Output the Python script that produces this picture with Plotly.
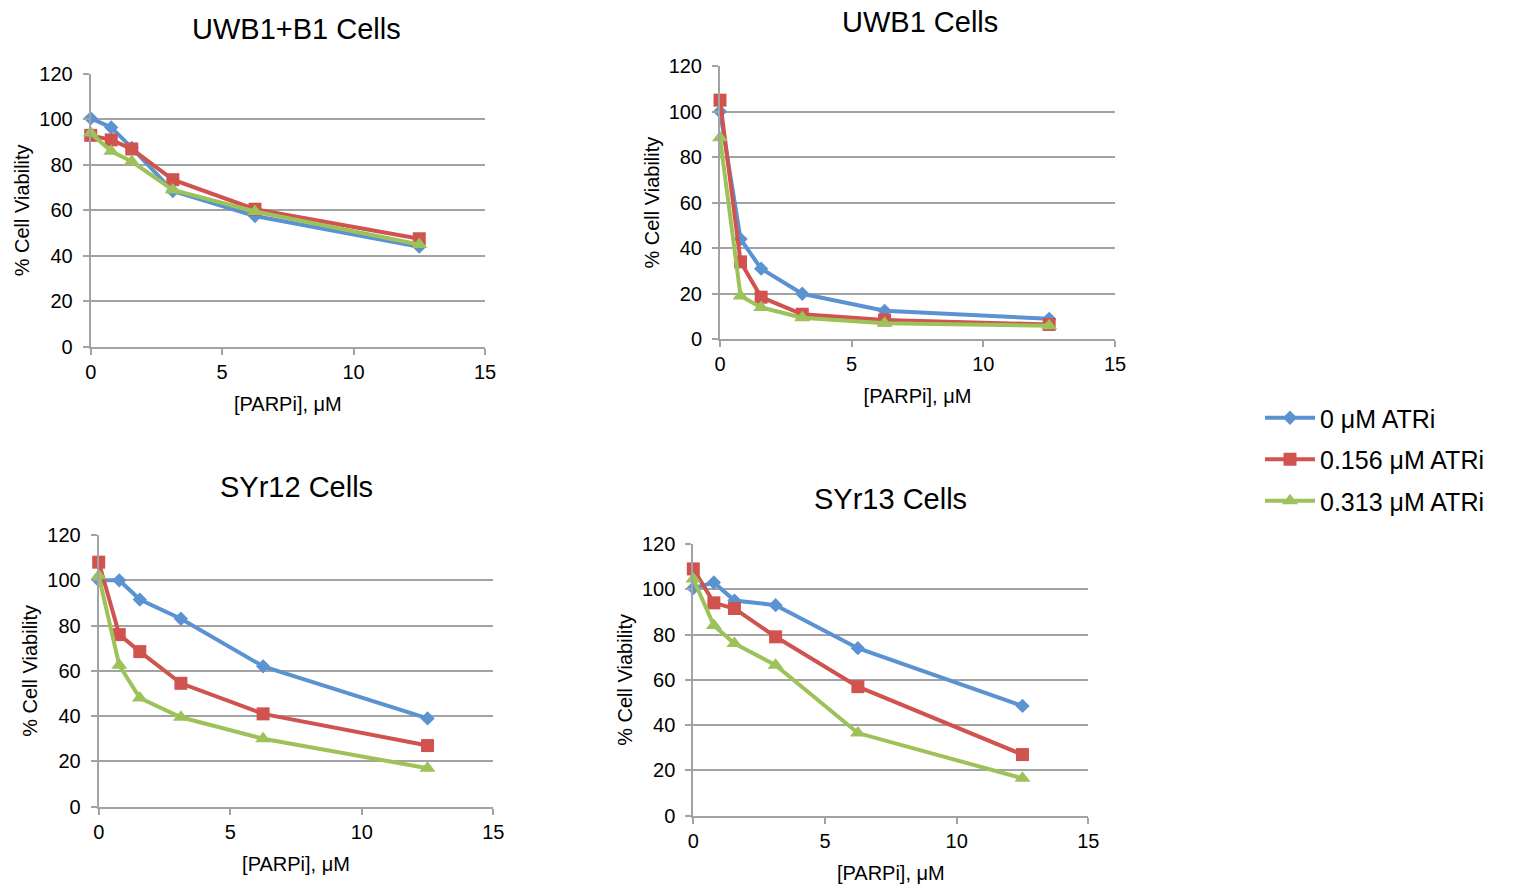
import plotly.graph_objects as go

# PARPi concentrations (uM)
parpi = [0, 0.78125, 1.5625, 3.125, 6.25, 12.5]

series_names = ["0 \u03bcM ATRi", "0.156 \u03bcM ATRi", "0.313 \u03bcM ATRi"]

panel_titles = ["UWB1+B1 Cells", "UWB1 Cells", "SYr12 Cells", "SYr13 Cells"]

# % cell viability per panel, per ATRi dose
uwb1b1_0 = [100.5, 96.5, 87.5, 68.5, 57.5, 44]
uwb1b1_156 = [93, 91, 87, 73.5, 60.5, 47.5]
uwb1b1_313 = [94, 86, 81.5, 69, 59.5, 45]

uwb1_0 = [100, 44, 31, 20, 12.5, 9]
uwb1_156 = [105, 34, 18.5, 11, 8.5, 6.5]
uwb1_313 = [88.5, 19, 14, 9.5, 7, 6]

syr12_0 = [100, 100, 91.5, 83, 62, 39]
syr12_156 = [108, 76, 68.5, 54.5, 41, 27]
syr12_313 = [102, 62.5, 48, 39.5, 30, 17]

syr13_0 = [100.5, 103, 95, 93, 74, 48.5]
syr13_156 = [109, 94, 91.5, 79, 57, 27]
syr13_313 = [104.5, 84, 76, 66.5, 36.5, 16.5]

panels = [
    [uwb1b1_0, uwb1b1_156, uwb1b1_313],
    [uwb1_0, uwb1_156, uwb1_313],
    [syr12_0, syr12_156, syr12_313],
    [syr13_0, syr13_156, syr13_313],
]

colors = ["#5B92D2", "#D0534F", "#9DC25A"]
symbols = ["diamond", "square", "triangle-up"]
msizes = [11, 13, 14]

W, H = 1514, 896
# pixel boxes of the plot areas: (x0, x1, ytop, ybottom)
boxes = [
    (90.7, 485.0, 74.0, 346.7),
    (720.0, 1115.0, 66.0, 339.3),
    (98.7, 493.3, 535.0, 806.7),
    (693.3, 1088.3, 544.0, 815.7),
]
title_pos = [(296, 29), (920, 22), (296, 487), (890, 499)]

FONT = "Liberation Sans, Arial, Helvetica, sans-serif"
GRID = "#A3A3A3"

fig = go.Figure()
layout = dict(
    width=W, height=H,
    margin=dict(l=0, r=0, t=0, b=0, autoexpand=False),
    paper_bgcolor="white", plot_bgcolor="white",
    font=dict(family=FONT, color="black"),
    showlegend=True,
    legend=dict(
        x=1260 / W, y=1 - 395 / H, xanchor="left", yanchor="top",
        font=dict(size=25, family=FONT, color="black"),
        tracegroupgap=6, itemwidth=50, bgcolor="rgba(0,0,0,0)",
    ),
    annotations=[],
)

for i, (vals, box) in enumerate(zip(panels, boxes)):
    ax = "" if i == 0 else str(i + 1)
    for j in range(3):
        fig.add_trace(go.Scatter(
            x=parpi, y=vals[j], mode="lines+markers",
            name=series_names[j], legendgroup=f"g{j}",
            showlegend=(i == 0),
            line=dict(color=colors[j], width=4),
            marker=dict(symbol=symbols[j], size=msizes[j], color=colors[j]),
            cliponaxis=False,
            xaxis="x" + ax, yaxis="y" + ax,
        ))
    x0, x1, yt, yb = box
    layout["xaxis" + ax] = dict(
        domain=[x0 / W, x1 / W], anchor="y" + ax, range=[0, 15],
        tickvals=[0, 5, 10, 15], showgrid=False, zeroline=False,
        showline=True, linecolor=GRID, linewidth=2, automargin=False,
        ticks="outside", ticklen=6, tickwidth=2, tickcolor=GRID,
        tickfont=dict(size=20, family=FONT, color="black"),
        title=dict(text="[PARPi], \u03bcM", font=dict(size=20, family=FONT, color="black"), standoff=15),
    )
    layout["yaxis" + ax] = dict(
        domain=[1 - yb / H, 1 - yt / H], anchor="x" + ax, range=[0, 120],
        tickvals=[0, 20, 40, 60, 80, 100, 120], showgrid=True,
        gridcolor=GRID, gridwidth=2, zeroline=False,
        showline=True, linecolor=GRID, linewidth=2, automargin=False,
        ticks="outside", ticklen=6, tickwidth=2, tickcolor=GRID,
        ticklabelstandoff=6,
        tickfont=dict(size=20, family=FONT, color="black"),
        title=dict(text="% Cell Viability", font=dict(size=20, family=FONT, color="black"), standoff=4),
    )
    tx, ty = title_pos[i]
    layout["annotations"].append(dict(
        text=panel_titles[i], x=tx / W, y=1 - ty / H, xref="paper", yref="paper",
        xanchor="center", yanchor="middle", showarrow=False,
        font=dict(size=29, family=FONT, color="black"),
    ))

fig.update_layout(**layout)
fig.write_html(
    "out.html",
    config={"displayModeBar": False},
    post_script="document.body.style.margin='0';document.body.style.overflow='hidden';",
)
